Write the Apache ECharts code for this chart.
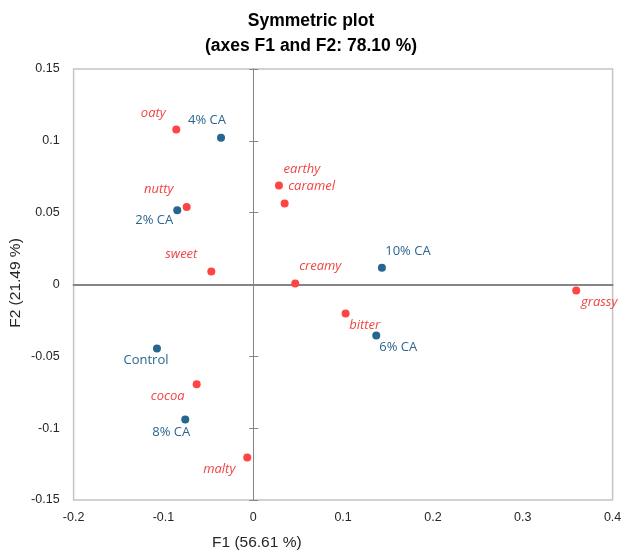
<!DOCTYPE html>
<html>
<head>
<meta charset="utf-8">
<script src="https://cdn.jsdelivr.net/npm/echarts@6/dist/echarts.min.js"></script>
<style>html,body{margin:0;padding:0;background:#fff}#c{width:622px;height:553px}</style>
</head>
<body>
<div id="c"></div>
<script>
// Observations (blue)
const obsNames = ['4% CA', '2% CA', '10% CA', '6% CA', 'Control', '8% CA'];
const obsF1 = [-0.0359, -0.0846, 0.1432, 0.1369, -0.1072, -0.0757];
const obsF2 = [0.1021, 0.0517, 0.0116, -0.0355, -0.0446, -0.0940];
// Variables (red)
const varNames = ['oaty', 'earthy', 'caramel', 'nutty', 'sweet', 'creamy', 'grassy', 'bitter', 'cocoa', 'malty'];
const varF1 = [-0.0857, 0.0286, 0.0349, -0.0741, -0.0467, 0.0467, 0.3595, 0.1028, -0.0630, -0.0067];
const varF2 = [0.1079, 0.0689, 0.0564, 0.0540, 0.0091, 0.0007, -0.0042, -0.0202, -0.0694, -0.1205];
// Axis ticks
const xTicks = [-0.2, -0.1, 0, 0.1, 0.2, 0.3, 0.4];
const yTicks = [-0.15, -0.1, -0.05, 0, 0.05, 0.1, 0.15];

// label offsets (layout only)
const obsLabelOffsets = [[-14, -18], [-23, 10], [26, -17], [22, 12], [-11, 12], [-14, 13]];
const varLabelOffsets = [[-23, -16], [23, -16], [27, -17], [-28, -18], [-30, -17], [25, -17], [23, 12], [19, 12], [-29, 12], [-28, 12]];

const RED = '#FF4444';
const BLUE = '#25678F';

const chart = echarts.init(document.getElementById('c'), null, {renderer: 'canvas'});

const xMin = xTicks[0], xMax = xTicks[xTicks.length - 1];
const yMin = yTicks[0], yMax = yTicks[yTicks.length - 1];
const xInt = 0.1, yInt = 0.05;
const tickFont = {fontFamily: 'Liberation Sans', fontSize: 12.5, color: '#262626'};

function fmt(v) {
  const r = Math.round(v * 100) / 100;
  return String(r);
}

const obsData = obsNames.map((n, i) => ({
  value: [obsF1[i], obsF2[i]], name: n,
  label: {offset: obsLabelOffsets[i]}
}));
const varData = varNames.map((n, i) => ({
  value: [varF1[i], varF2[i]], name: n,
  label: {offset: varLabelOffsets[i]}
}));

chart.setOption({
  animation: false,
  backgroundColor: '#fff',
  title: {
    text: 'Symmetric plot\n(axes F1 and F2: 78.10 %)',
    left: 'center', top: 4,
    textStyle: {fontFamily: 'Liberation Sans', fontSize: 17.5, fontWeight: 'bold', color: '#000', lineHeight: 25}
  },
  grid: {
    left: 73.6, top: 69, width: 539, height: 431,
    containLabel: false, outerBoundsMode: 'none',
    show: true, borderColor: '#C4C4C4', borderWidth: 1.5, backgroundColor: 'transparent'
  },
  xAxis: [
    {
      type: 'value', min: xMin, max: xMax, interval: xInt, position: 'bottom',
      axisLine: {show: false, onZero: false}, axisTick: {show: false}, splitLine: {show: false},
      axisLabel: Object.assign({margin: 11, formatter: fmt}, tickFont)
    },
    {
      type: 'value', min: xMin, max: xMax, interval: xInt,
      axisLine: {show: true, onZero: true, onZeroAxisIndex: 0, lineStyle: {color: '#858585', width: 2}},
      axisTick: {show: false}, axisLabel: {show: false}, splitLine: {show: false}
    }
  ],
  yAxis: [
    {
      type: 'value', min: yMin, max: yMax, interval: yInt, position: 'left',
      axisLine: {show: false, onZero: false}, axisTick: {show: false}, splitLine: {show: false},
      axisLabel: Object.assign({margin: 14, formatter: fmt}, tickFont)
    },
    {
      type: 'value', min: yMin, max: yMax, interval: yInt, position: 'left',
      axisLine: {show: true, onZero: true, onZeroAxisIndex: 0, lineStyle: {color: '#858585', width: 1}},
      axisTick: {show: true, inside: false, length: 4, lineStyle: {color: '#858585'}},
      axisLabel: {show: false}, splitLine: {show: false}
    },
    {
      type: 'value', min: yMin, max: yMax, interval: yInt, position: 'left',
      axisLine: {show: false, onZero: true, onZeroAxisIndex: 0, lineStyle: {color: '#858585', width: 1}},
      axisTick: {show: true, inside: true, length: 5, lineStyle: {color: '#858585'}},
      axisLabel: {show: false}, splitLine: {show: false}
    }
  ],
  graphic: [
    {
      type: 'text', left: 258 - 46, top: 535,
      style: {text: 'F1 (56.61 %)', fontFamily: 'Liberation Sans', fontSize: 15.5, fill: '#262626'}
    },
    {
      type: 'text', x: 16, y: 283, rotation: Math.PI / 2,
      style: {text: 'F2 (21.49 %)', fontFamily: 'Liberation Sans', fontSize: 15.5, fill: '#262626', align: 'center', verticalAlign: 'middle'}
    }
  ],
  series: [
    {
      type: 'scatter', xAxisIndex: 0, yAxisIndex: 0, symbolSize: 8,
      itemStyle: {color: RED, opacity: 1},
      label: {show: true, position: 'inside', formatter: '{b}', color: '#F24444',
        fontFamily: 'Open Sans', fontStyle: 'italic', fontSize: 13},
      data: varData, z: 3
    },
    {
      type: 'scatter', xAxisIndex: 0, yAxisIndex: 0, symbolSize: 8,
      itemStyle: {color: BLUE, opacity: 1},
      label: {show: true, position: 'inside', formatter: '{b}', color: '#2A678F',
        fontFamily: 'Open Sans', fontSize: 13},
      data: obsData, z: 4
    }
  ]
});
</script>
</body>
</html>
